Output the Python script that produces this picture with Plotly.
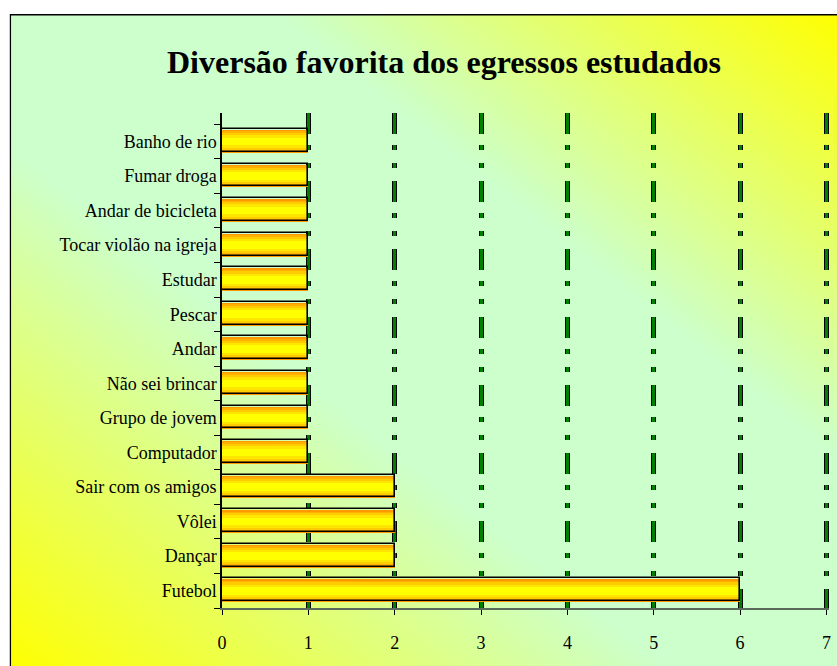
import base64
import plotly.graph_objects as go

# ---- data ----
categories = ["Banho de rio", "Fumar droga", "Andar de bicicleta", "Tocar violão na igreja",
              "Estudar", "Pescar", "Andar", "Não sei brincar", "Grupo de jovem",
              "Computador", "Sair com os amigos", "Vôlei", "Dançar", "Futebol"]
values = [1, 1, 1, 1, 1, 1, 1, 1, 1, 1, 2, 2, 2, 6]
x_ticks = [0, 1, 2, 3, 4, 5, 6, 7]
title_text = "Diversão favorita dos egressos estudados"

FONT = "Liberation Serif"

W, H = 837, 666
XMAX = 7.03
ML, MB, MT = 222, 58, 113
PW = (828 - ML) * XMAX / 7.0
MR = W - ML - PW
PH = H - MT - MB

# background gradient (chart area box) as svg image
bx0, by0 = 9, 14
bw, bh = W + 4 - bx0, H + 4 - by0
svg = f'''<svg xmlns="http://www.w3.org/2000/svg" width="{bw}" height="{bh}" viewBox="0 0 {bw} {bh}">
<defs><linearGradient id="g" x1="1" y1="0" x2="0" y2="1">
<stop offset="0" stop-color="#ffff00"/>
<stop offset="0.34" stop-color="#ccffcc"/>
<stop offset="0.60" stop-color="#ccffcc"/>
<stop offset="1" stop-color="#ffff00"/>
</linearGradient></defs>
<rect x="0" y="0" width="{bw}" height="{bh}" fill="url(#g)"/>
<rect x="0.75" y="0.75" width="{bw}" height="{bh}" fill="none" stroke="#000" stroke-width="1.5"/>
</svg>'''
src = "data:image/svg+xml;base64," + base64.b64encode(svg.encode()).decode()

fig = go.Figure()

# bar gradient layers (orange edges -> yellow center)
layers = [(0.66, "#ff9900"), (0.58, "#ffb000"), (0.48, "#ffcc00"), (0.36, "#ffe600"), (0.22, "#ffff00")]
for w, c in layers:
    fig.add_trace(go.Bar(y=categories, x=values, orientation="h", width=w,
                         marker=dict(color=c, line=dict(width=0)), hoverinfo="skip",
                         showlegend=False, xaxis="x", yaxis="y"))
# outline
fig.add_trace(go.Bar(y=categories, x=values, orientation="h", width=0.66,
                     marker=dict(color="rgba(0,0,0,0)", line=dict(width=1.6, color="#000")),
                     showlegend=False, offset=-0.30))

dash = "21px,11px,5px,13px,5px,13px"

fig.update_layout(
    width=W, height=H,
    margin=dict(l=ML, r=MR, t=MT, b=MB),
    paper_bgcolor="white",
    plot_bgcolor="rgba(0,0,0,0)",
    barmode="overlay",
    bargap=0,
    title=dict(text=f"<b>{title_text}</b>", x=444 / W, xanchor="center",
               y=1 - 62 / H, yanchor="middle",
               font=dict(family=FONT, size=32, color="black")),
    font=dict(family=FONT, size=18, color="black"),
    images=[dict(source=src, xref="paper", yref="paper",
                 x=(bx0 - ML) / PW, y=(H - MB - by0) / PH,
                 sizex=bw / PW, sizey=bh / PH,
                 xanchor="left", yanchor="top", sizing="stretch", layer="below")],
    xaxis=dict(range=[0, XMAX], tickvals=x_ticks, ticktext=[str(t) for t in x_ticks],
               showgrid=True, gridcolor="#000000", gridwidth=5, griddash=dash,
               zeroline=False, showline=True, linecolor="#5a6a5a", linewidth=2,
               ticks="outside", ticklen=5, tickcolor="#000", tickwidth=1,
               ticklabelstandoff=12, tickfont=dict(size=18, family=FONT)),
    xaxis2=dict(range=[0, XMAX], tickvals=x_ticks, overlaying="x", side="bottom",
                showgrid=True, gridcolor="#008000", gridwidth=3, griddash=dash,
                showticklabels=False, zeroline=False, showline=False),
    yaxis=dict(categoryorder="array", categoryarray=categories[::-1],
               showgrid=False, zeroline=False, showline=True, linecolor="#000", linewidth=1.5,
               ticks="outside", ticklen=6, tickcolor="#000", tickson="boundaries",
               tickfont=dict(size=18, family=FONT)),
)
# dummy trace to activate xaxis2
fig.add_trace(go.Scatter(x=[0], y=[categories[0]], xaxis="x2", mode="markers",
                         marker=dict(opacity=0), hoverinfo="skip", showlegend=False))

fig.write_html("out.html")
